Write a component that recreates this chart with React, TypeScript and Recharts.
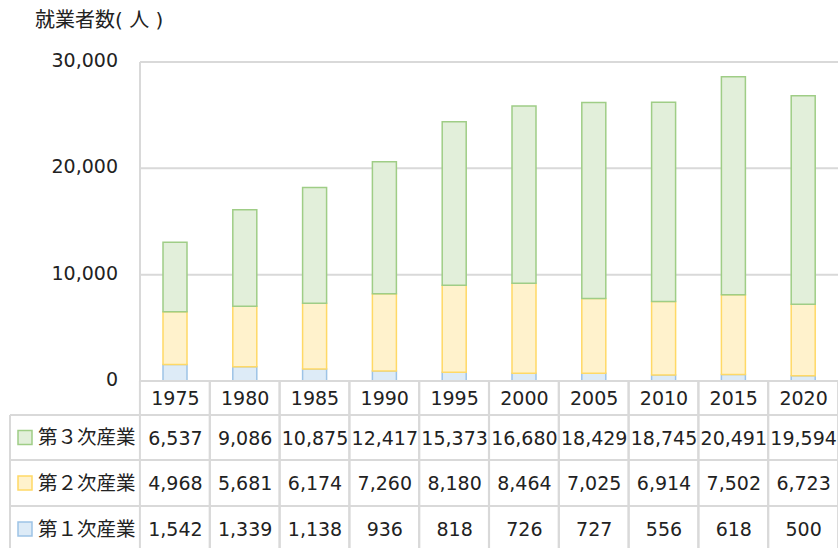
import { BarChart, Bar, XAxis, YAxis, CartesianGrid } from 'recharts'

const years = ['1975', '1980', '1985', '1990', '1995', '2000', '2005', '2010', '2015', '2020']
const tertiary = [6537, 9086, 10875, 12417, 15373, 16680, 18429, 18745, 20491, 19594]
const secondary = [4968, 5681, 6174, 7260, 8180, 8464, 7025, 6914, 7502, 6723]
const primary = [1542, 1339, 1138, 936, 818, 726, 727, 556, 618, 500]
const yTicks = [0, 10000, 20000, 30000]

const series = [
  { key: 'tertiary', label: '第３次産業', fill: '#e2efda', stroke: '#9fcd86', values: tertiary },
  { key: 'secondary', label: '第２次産業', fill: '#fff2cc', stroke: '#ffd966', values: secondary },
  { key: 'primary', label: '第１次産業', fill: '#ddebf7', stroke: '#9dc3e6', values: primary },
]

const data = years.map((y, i) => ({
  year: y,
  primary: primary[i],
  secondary: secondary[i],
  tertiary: tertiary[i],
}))

const FONT = "'DejaVu Sans', 'Noto Sans CJK JP', sans-serif"
const TEXT = '#222'
const LINE = '#d9d9d9'
const W = 838
const H = 548
const PLOT_BOTTOM = 381
const ROWS = [381, 415, 460, 506, 560]
const COL_W = 70

const fmt = (v: number) => v.toLocaleString('en-US')

function YTick(props: any) {
  const { y, payload } = props
  return (
    <text x={118} y={y - 2} textAnchor="end" dominantBaseline="central" fontSize={19} fill={TEXT} fontFamily={FONT}>
      {fmt(payload.value)}
    </text>
  )
}

// each x tick draws its column of the data table
function TableColumn(props: any) {
  const { x, index } = props
  const left = x - COL_W / 2
  const right = x + COL_W / 2
  const cells = [years[index], ...series.map(s => fmt(s.values[index]))]
  return (
    <g>
      <line x1={left} x2={left} y1={PLOT_BOTTOM} y2={H} stroke={LINE} strokeWidth={2} />
      <line x1={right} x2={right} y1={PLOT_BOTTOM} y2={H} stroke={LINE} strokeWidth={2} />
      {ROWS.slice(0, 4).map(r => (
        <line key={r} x1={left} x2={right} y1={r} y2={r} stroke={LINE} strokeWidth={2} />
      ))}
      {cells.map((c, i) => (
        <text
          key={i}
          x={x + 0.5}
          y={(ROWS[i] + Math.min(ROWS[i + 1], H + 4)) / 2}
          textAnchor="middle"
          dominantBaseline="central"
          fontSize={19}
          fill={TEXT}
          fontFamily={FONT}
        >
          {c}
        </text>
      ))}
    </g>
  )
}

export default function App() {
  return (
    <div style={{ position: 'absolute', left: 0, top: 0, width: W, height: H, background: '#fff', fontFamily: FONT }}>
      <div style={{ position: 'absolute', left: 35, top: 4, fontSize: 20, color: TEXT, whiteSpace: 'nowrap' }}>
        就業者数( 人 )
      </div>
      <BarChart width={W} height={H} data={data} margin={{ top: 62, right: 0, left: 0, bottom: 0 }} barSize={24}>
        <CartesianGrid horizontal vertical={false} stroke={LINE} strokeWidth={2} />
        <YAxis
          domain={[0, 30000]}
          ticks={yTicks}
          width={140}
          tick={<YTick />}
          tickLine={false}
          axisLine={{ stroke: LINE, strokeWidth: 2 }}
          interval={0}
        />
        <XAxis dataKey="year" height={H - PLOT_BOTTOM} tick={<TableColumn />} tickLine={false} axisLine={false} interval={0} />
        <Bar dataKey="primary" stackId="a" fill="#ddebf7" stroke="#9dc3e6" strokeWidth={1.5} isAnimationActive={false} />
        <Bar dataKey="secondary" stackId="a" fill="#fff2cc" stroke="#ffd966" strokeWidth={1.5} isAnimationActive={false} />
        <Bar dataKey="tertiary" stackId="a" fill="#e2efda" stroke="#9fcd86" strokeWidth={1.5} isAnimationActive={false} />
      </BarChart>
      <svg width={W} height={H} style={{ position: 'absolute', left: 0, top: 0, pointerEvents: 'none' }}>
        <line x1={10} x2={140} y1={ROWS[1]} y2={ROWS[1]} stroke={LINE} strokeWidth={2} />
        <line x1={10} x2={140} y1={ROWS[2]} y2={ROWS[2]} stroke={LINE} strokeWidth={2} />
        <line x1={10} x2={140} y1={ROWS[3]} y2={ROWS[3]} stroke={LINE} strokeWidth={2} />
        <line x1={10} x2={10} y1={ROWS[1]} y2={H} stroke={LINE} strokeWidth={2} />
        {series.map((s, i) => {
          const cy = (ROWS[i + 1] + Math.min(ROWS[i + 2], H + 4)) / 2
          return (
            <g key={s.key}>
              <rect x={18} y={cy - 7} width={14} height={14} fill={s.fill} stroke={s.stroke} strokeWidth={1.5} />
              <text x={38} y={cy} dominantBaseline="central" fontSize={19.5} fill={TEXT} fontFamily={FONT}>
                {s.label}
              </text>
            </g>
          )
        })}
      </svg>
    </div>
  )
}
